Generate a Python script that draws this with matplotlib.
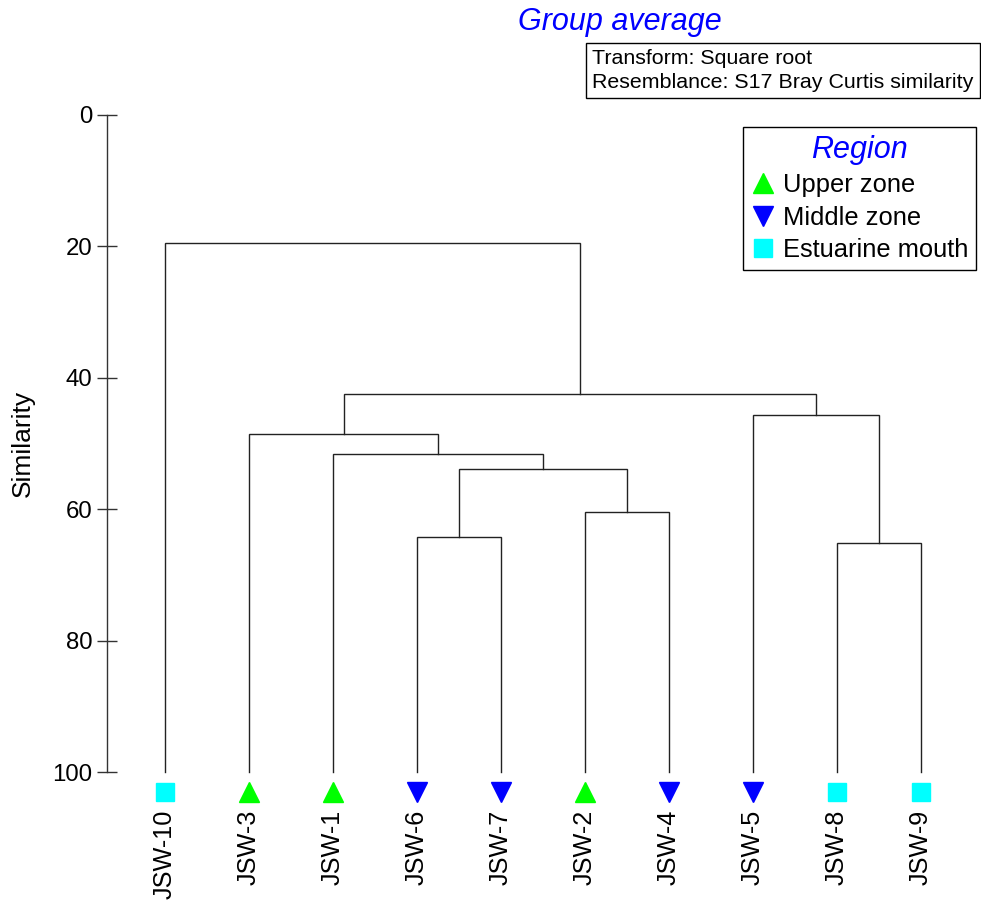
import matplotlib
matplotlib.use("Agg")
from matplotlib import pyplot as plt
from matplotlib.lines import Line2D

plt.rcParams['font.family'] = ['Liberation Sans', 'DejaVu Sans']

# leaves in plotted order, with their region
leaves = ['JSW-10', 'JSW-3', 'JSW-1', 'JSW-6', 'JSW-7',
          'JSW-2', 'JSW-4', 'JSW-5', 'JSW-8', 'JSW-9']
regions = ['Estuarine mouth', 'Upper zone', 'Upper zone', 'Middle zone', 'Middle zone',
           'Upper zone', 'Middle zone', 'Middle zone', 'Estuarine mouth', 'Estuarine mouth']

# merges: (left node, right node, similarity); leaves are 0..9, new clusters 10, 11, ...
merges = [
    (3, 4, 64.2),     # 10: JSW-6 + JSW-7
    (8, 9, 65.1),     # 11: JSW-8 + JSW-9
    (5, 6, 60.5),     # 12: JSW-2 + JSW-4
    (10, 12, 53.9),   # 13
    (2, 13, 51.6),    # 14
    (1, 14, 48.5),    # 15
    (7, 11, 45.7),    # 16
    (15, 16, 42.5),   # 17
    (0, 17, 19.5),    # 18
]

region_names = ['Upper zone', 'Middle zone', 'Estuarine mouth']
region_markers = ['^', 'v', 's']
region_colors = ['#00ff00', '#0000ff', '#00ffff']
region_sizes = [15, 15, 13]

yticks = [0, 20, 40, 60, 80, 100]

fig = plt.figure(figsize=(9.81, 9.01), dpi=100)
W, H = 981.0, 901.0
ax = fig.add_axes([107 / W, 1 - 772.3 / H, 1 - 107 / W, (772.3 - 114.5) / H])

# node positions
xpos = {i: float(i) for i in range(len(leaves))}
ypos = {i: 100.0 for i in range(len(leaves))}
lc = '#222222'
for k, (a, b, h) in enumerate(merges):
    node = len(leaves) + k
    xa, xb = xpos[a], xpos[b]
    ax.plot([xa, xa, xb, xb], [ypos[a], h, h, ypos[b]], color=lc, lw=1.0,
            solid_joinstyle='miter', clip_on=False)
    xpos[node] = (xa + xb) / 2
    ypos[node] = h

# sample markers below the leaves
for i, r in enumerate(regions):
    j = region_names.index(r)
    ax.plot(i, 103, marker=region_markers[j], color=region_colors[j],
            markersize=region_sizes[j], linestyle='none', clip_on=False)

ax.set_xlim((107 - 165) / 84.0, (981 - 165) / 84.0)
ax.set_ylim(100, 0)
ax.set_yticks(yticks)
ax.set_xticks(range(len(leaves)))
ax.set_xticklabels(leaves, rotation=90, va='top', ha='center')
ax.tick_params(axis='x', length=0, pad=27, labelsize=18.2)
ax.tick_params(axis='y', direction='inout', length=15, width=1, color='#333333',
               pad=3, labelsize=17.3)
for s in ['top', 'right', 'bottom']:
    ax.spines[s].set_visible(False)
ax.spines['left'].set_color('#333333')
ax.spines['left'].set_linewidth(1)

fig.text(23 / W, 1 - 443 / H, 'Similarity', rotation=90, ha='center', va='center', fontsize=19)

fig.text(620 / W, 1 - 22 / H, 'Group average', ha='center', va='center',
         fontsize=22, style='italic', color='#0000ff')
fig.text(592 / W, 1 - 49 / H,
         'Transform: Square root\nResemblance: S17 Bray Curtis similarity',
         ha='left', va='top', fontsize=15.4, linespacing=1.33,
         bbox=dict(boxstyle='square,pad=0.3', facecolor='white', edgecolor='black', lw=1))

handles = [Line2D([], [], marker=m, color=c, markersize=s, linestyle='none')
           for m, c, s in zip(region_markers, region_colors, region_sizes)]
leg = fig.legend(handles, region_names, title='Region', loc='upper left',
                 bbox_to_anchor=(743 / W, 1 - 127 / H), borderaxespad=0,
                 fontsize=18.4, title_fontproperties={'style': 'italic', 'size': 22},
                 frameon=True, fancybox=False, edgecolor='black', framealpha=1,
                 handlelength=0.95, handletextpad=0.3, borderpad=0.3, labelspacing=0.33)
leg.get_title().set_color('#0000ff')
leg.get_frame().set_linewidth(1)

fig.savefig('out.png', dpi=100)
